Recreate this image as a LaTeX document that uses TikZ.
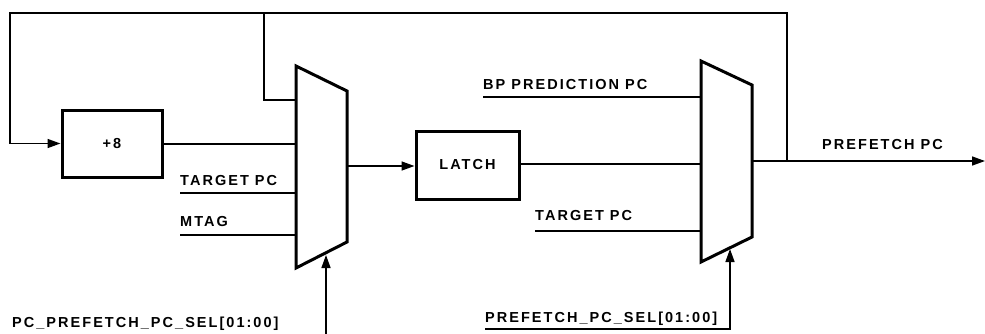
\documentclass[tikz,border=0pt]{standalone}
\usepackage{fontspec}
\newfontfamily\lblfont[LetterSpace=14]{Liberation Sans}
\usetikzlibrary{arrows.meta}
\begin{document}
\begin{tikzpicture}[x=1pt,y=-1pt,
  sig/.style={line width=1.5pt},
  arr/.style={sig,-{Triangle[length=13pt,width=9pt]}},
  lblf/.style={font=\lblfont\bfseries\fontsize{14.5}{17}\selectfont},
  blk/.style={draw,line width=3pt,minimum width=100pt,inner sep=0pt,lblf},
  muxln/.style={line width=3pt,line join=miter},
  lbl/.style={inner sep=0pt,anchor=base west,lblf}]
\useasboundingbox (0,0) rectangle (985,333);
% blocks
\node[blk,minimum height=67pt] (add) at (112,143.5) {+8};
\node[blk,minimum height=68pt,minimum width=103pt] (latch) at (467.5,165) {LATCH};
% multiplexers
\draw[muxln] (296,66) coordinate (m1tl) -- (347,91) coordinate (m1tr) -- (347,242) coordinate (m1br) -- (296,268) coordinate (m1bl) -- cycle;
\draw[muxln] (701,61) coordinate (m2tl) -- (752,85) coordinate (m2tr) -- (752,237) coordinate (m2br) -- (701,262) coordinate (m2bl) -- cycle;
% mux 1 inputs
\coordinate (m1in0) at (296,100);
\coordinate (m1in1) at (296,144);
\coordinate (m1in2) at (296,193);
\coordinate (m1in3) at (296,235);
\coordinate (m1sel) at (326,255);
\coordinate (m1out) at (347,166);
% mux 2 inputs
\coordinate (m2in0) at (701,97);
\coordinate (m2in1) at (701,164);
\coordinate (m2in2) at (701,231);
\coordinate (m2sel) at (730,249);
\coordinate (m2out) at (752,161);
% free ends
\coordinate (topL) at (10,13);
\coordinate (topM) at (264,13);
\coordinate (topR) at (787,13);
\coordinate (tap) at (787,161);
\coordinate (outE) at (985,161);
\coordinate (sel1S) at (326,335);
\coordinate (sel2S) at (485,329);
\coordinate (tpc1S) at (180,193);
\coordinate (mtagS) at (180,235);
\coordinate (bpS) at (483,97);
\coordinate (tpc2S) at (535,231);
% labels
\node[lbl] (ltpc1) at (180,185) {TARGET PC};
\node[lbl] (lmtag) at (180,226) {MTAG};
\node[lbl] (lsel1) at (12,327) {PC\_PREFETCH\_PC\_SEL[01:00]};
\node[lbl] (lbp) at (483,89) {BP PREDICTION PC};
\node[lbl] (ltpc2) at (535,220) {TARGET PC};
\node[lbl] (lsel2) at (485,322) {PREFETCH\_PC\_SEL[01:00]};
\node[lbl] (lpf) at (822,149) {PREFETCH PC};
% connectors
\draw[arr] (tap) -- (topR) -- (topL) |- (add.west);
\draw[sig] (topM) |- (m1in0);
\draw[sig] (add.east |- m1in1) -- (m1in1);
\draw[sig] (tpc1S) -- (m1in2);
\draw[sig] (mtagS) -- (m1in3);
\draw[arr] (sel1S) -- (m1sel);
\draw[arr] (m1out) -- (latch.west |- m1out);
\draw[sig] (latch.east |- m2in1) -- (m2in1);
\draw[sig] (bpS) -- (m2in0);
\draw[sig] (tpc2S) -- (m2in2);
\draw[arr] (sel2S) -| (m2sel);
\draw[arr] (m2out) -- (outE);
\end{tikzpicture}
\end{document}
